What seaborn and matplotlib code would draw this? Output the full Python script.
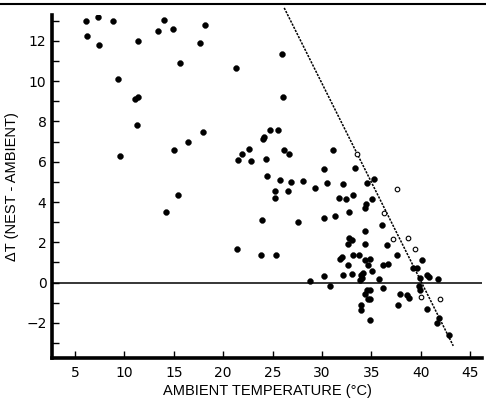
import matplotlib
matplotlib.use("Agg")
import matplotlib.pyplot as plt
import seaborn as sns
import numpy as np
from matplotlib.lines import Line2D

# ---- data ----
filled_x = [6.1, 7.3, 8.8, 6.2, 7.4, 11.35, 14.0, 13.4, 14.9, 18.2, 17.6, 15.6, 9.3, 11.1, 11.35,
            11.3, 18.0, 16.45, 15.0, 9.6, 15.4, 14.2, 21.4, 21.3,
            24.7, 25.5, 24.1, 24.0, 22.65, 21.85, 21.5, 22.8, 24.3, 26.2, 26.7, 24.4, 25.7, 26.9,
            28.1, 29.3, 30.2, 30.55, 25.2, 26.6, 25.25, 23.9, 30.15, 27.6, 23.8, 25.3, 28.8, 30.2,
            30.8, 25.9, 26.0, 31.1,
            33.3, 32.1, 34.6, 35.25, 33.1, 31.7, 32.4, 35.05, 34.4, 34.3, 32.75, 31.3, 36.05, 34.3,
            32.7, 33.0, 34.3, 32.6, 36.6,
            31.8, 32.0, 33.1, 33.7, 34.3, 34.85, 37.55, 40.1, 32.65, 34.7, 35.1, 36.2, 36.7, 39.2,
            39.6, 32.1, 33.05, 33.9, 34.1, 33.8, 34.0, 35.8, 39.9, 40.65, 40.8, 41.75, 39.8, 39.9,
            36.2, 37.9, 38.6, 38.8, 34.3, 34.6, 34.9, 34.7, 34.9, 37.7, 33.95, 33.9, 40.65, 34.9,
            41.8, 41.65, 42.85]
filled_y = [13.0, 13.2, 13.0, 12.25, 11.8, 12.0, 13.06, 12.5, 12.6, 12.8, 11.9, 10.9, 10.1, 9.12, 9.24,
            7.83, 7.5, 6.97, 6.6, 6.29, 4.34, 3.53, 1.66, 10.67,
            7.6, 7.6, 7.23, 7.12, 6.64, 6.39, 6.09, 6.04, 6.16, 6.6, 6.39, 5.31, 5.11, 5.01,
            5.05, 4.69, 5.66, 4.95, 4.57, 4.55, 4.19, 3.12, 3.23, 3.0, 1.37, 1.37, 0.1, 0.33,
            -0.15, 11.37, 9.22, 6.57,
            5.7, 4.89, 4.93, 5.16, 4.37, 4.19, 4.14, 4.14, 3.91, 3.69, 3.53, 3.33, 2.88, 2.57,
            2.22, 2.1, 1.94, 1.9, 1.87,
            1.18, 1.29, 1.36, 1.36, 1.14, 1.16, 1.38, 1.13, 0.88, 0.88, 0.6, 0.86, 0.94, 0.73,
            0.73, 0.37, 0.42, 0.37, 0.47, 0.13, 0.25, 0.17, 0.25, 0.38, 0.27, 0.18, -0.16, -0.36,
            -0.25, -0.55, -0.6, -0.75, -0.58, -0.36, -0.36, -0.81, -0.81, -1.1, -1.12, -1.34, -1.32, -1.84,
            -1.75, -2.02, -2.6]

open_x = [33.55, 37.55, 36.25, 37.2, 38.65, 39.4, 40.0, 41.9]
open_y = [6.37, 4.64, 3.48, 2.19, 2.22, 1.66, -0.69, -0.81]

line_x = [26.17, 43.28]
line_y = [13.64, -3.14]

x_ticks = [5, 10, 15, 20, 25, 30, 35, 40, 45]
y_ticks = [-2, 0, 2, 4, 6, 8, 10, 12]

# ---- plotting ----
sns.set_theme(style="white")
plt.rcParams['font.family'] = ['Liberation Sans', 'DejaVu Sans']

fig = plt.figure(figsize=(4.86, 4.04), dpi=100)
ax = fig.add_axes([0.107, 0.114, 0.885, 0.849])

sns.scatterplot(x=filled_x, y=filled_y, ax=ax, color="black", s=18, edgecolor="black",
                linewidth=0.3, legend=False, zorder=3)
sns.scatterplot(x=open_x, y=open_y, ax=ax, facecolor="white", s=11, edgecolor="black",
                linewidth=0.8, legend=False, zorder=3)

ax.axhline(0, color="black", linewidth=1.1, zorder=2)
sns.lineplot(x=line_x, y=line_y, ax=ax, color="black", linewidth=1.1,
             linestyle=(0, (1.5, 0.8)), clip_on=False, zorder=2)

ax.set_xlim(2.67, 46.2)
ax.set_ylim(-3.74, 13.29)
ax.set_xticks(x_ticks)
ax.set_yticks(y_ticks)
ax.set_yticks(np.arange(-3, 14, 1), minor=True)

for side in ["top", "right"]:
    ax.spines[side].set_visible(False)
for side in ["left", "bottom"]:
    ax.spines[side].set_visible(True)
    ax.spines[side].set_color("black")
    ax.spines[side].set_linewidth(2.6)

ax.tick_params(axis="both", which="both", direction="in", color="black", width=1.0,
               labelsize=10, labelcolor="black")
ax.tick_params(axis="y", which="major", length=5, pad=4, left=True)
ax.tick_params(axis="y", which="minor", length=5, left=True)
ax.tick_params(axis="x", which="major", length=5, pad=6, bottom=True)
for lab in ax.get_xticklabels() + ax.get_yticklabels():
    lab.set_family(["DejaVu Sans"])

ax.set_xlabel("AMBIENT TEMPERATURE (°C)", fontsize=10.5, color="black", labelpad=3)
ax.set_ylabel("ΔT (NEST - AMBIENT)", fontsize=10.5, color="black", labelpad=5)

# scan frame line at the top
fig.add_artist(Line2D([0.0, 1.0], [0.99, 0.99], transform=fig.transFigure,
                      color="black", linewidth=1.5))

fig.savefig("out.png", dpi=100)
